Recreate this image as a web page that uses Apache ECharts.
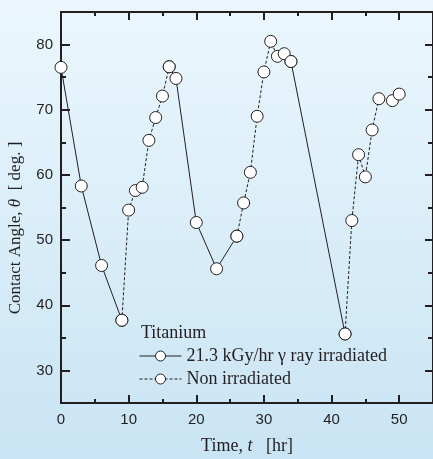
<!DOCTYPE html>
<html>
<head>
<meta charset="utf-8">
<script src="https://cdn.jsdelivr.net/npm/echarts@6/dist/echarts.min.js"></script>
<style>
  html, body { margin: 0; padding: 0; }
  #chart { width: 433px; height: 459px; }
</style>
</head>
<body>
<div id="chart"></div>
<script>
// Contact angle of titanium over time, alternating irradiation periods
const hours = [0, 3, 6, 9, 10, 11, 12, 13, 14, 15, 16, 17, 20, 23, 26, 27, 28, 29, 30, 31, 32, 33, 34, 42, 43, 44, 45, 46, 47, 49, 50];
const angle = [76.5, 58.3, 46.1, 37.7, 54.6, 57.6, 58.1, 65.3, 68.8, 72.1, 76.6, 74.8, 52.7, 45.6, 50.6, 55.7, 60.4, 69.0, 75.8, 80.5, 78.2, 78.6, 77.4, 35.6, 53.0, 63.1, 59.7, 66.9, 71.7, 71.4, 72.4];

// time spans [start, end] in hours
const irradiatedSpans = [[0, 9], [16, 26], [34, 42]];
const nonIrradiatedSpans = [[9, 16], [26, 34], [42, 50]];

const seriesNames = ['21.3 kGy/hr \u03b3 ray irradiated', 'Non irradiated'];
const legendTitle = 'Titanium';

const xMajorTicks = [0, 10, 20, 30, 40, 50];
const xMinorTicks = [5, 15, 25, 35, 45];
const yMajorTicks = [30, 40, 50, 60, 70, 80];
const yMinorTicks = [35, 45, 55, 65, 75];

function spanData(spans) {
  const out = [];
  spans.forEach((s, k) => {
    if (k > 0) out.push(['-', '-']);
    hours.forEach((h, i) => {
      if (h >= s[0] && h <= s[1]) out.push([h, angle[i]]);
    });
  });
  return out;
}

const ink = '#231f20';
const serif = '"Liberation Serif", "DejaVu Serif", serif';
const sans = '"Liberation Sans", Arial, sans-serif';

function xAxisDef(position, ticks, len, labels) {
  return {
    type: 'value', gridIndex: 0, position: position,
    min: 0, max: 55,
    axisLine: { show: true, onZero: false, lineStyle: { color: ink, width: 2 } },
    axisTick: { show: true, inside: true, length: len, customValues: ticks, lineStyle: { color: ink, width: 2 } },
    axisLabel: labels ? { show: true, customValues: xMajorTicks, margin: 9, color: ink, fontFamily: sans, fontSize: 15 } : { show: false },
    splitLine: { show: false }
  };
}
function yAxisDef(position, ticks, len, labels) {
  return {
    type: 'value', gridIndex: 0, position: position,
    min: 25, max: 85,
    axisLine: { show: true, onZero: false, lineStyle: { color: ink, width: 2 } },
    axisTick: { show: true, inside: true, length: len, customValues: ticks, lineStyle: { color: ink, width: 2 } },
    axisLabel: labels ? { show: true, customValues: yMajorTicks, margin: 8, color: ink, fontFamily: sans, fontSize: 15 } : { show: false },
    splitLine: { show: false }
  };
}

const lineSeries = (name, spans, dash) => ({
  name: name,
  type: 'line',
  xAxisIndex: 0, yAxisIndex: 0,
  data: spanData(spans),
  connectNulls: false,
  symbol: 'circle',
  symbolSize: 12,
  showAllSymbol: true,
  lineStyle: { color: ink, width: 1, type: dash ? [3, 2] : 'solid' },
  itemStyle: { color: '#ffffff', borderColor: ink, borderWidth: 1 },
  emphasis: { disabled: true },
  animation: false
});

const chart = echarts.init(document.getElementById('chart'), null, { renderer: 'canvas' });
chart.setOption({
  animation: false,
  backgroundColor: {
    type: 'linear', x: 0, y: 0, x2: 0, y2: 1,
    colorStops: [{ offset: 0, color: '#ebf7fd' }, { offset: 1, color: '#c9e4f4' }]
  },
  grid: { left: 61, top: 12, width: 373.5, height: 391 },
  xAxis: [
    xAxisDef('bottom', xMajorTicks, 8, true),
    xAxisDef('bottom', xMinorTicks, 4, false),
    xAxisDef('top', xMajorTicks, 8, false),
    xAxisDef('top', xMinorTicks, 4, false)
  ],
  yAxis: [
    yAxisDef('left', yMajorTicks, 9, true),
    yAxisDef('left', yMinorTicks, 5, false),
    yAxisDef('right', yMajorTicks, 8, false),
    yAxisDef('right', yMinorTicks, 5, false)
  ],
  legend: {
    orient: 'vertical',
    left: 139, top: 347, padding: 0,
    itemWidth: 42, itemHeight: 12.5, itemGap: 5,
    itemStyle: { color: '#ffffff', borderColor: ink, borderWidth: 1 },
    lineStyle: { width: 1 },
    textStyle: { color: ink, fontFamily: serif, fontSize: 18 },
    data: seriesNames,
    selectedMode: false
  },
  graphic: [
    {
      type: 'text', left: 141, top: 324, silent: true,
      style: { text: legendTitle, fill: ink, font: '18px ' + serif }
    },
    {
      type: 'text', x: 16, y: 228, rotation: Math.PI / 2, silent: true,
      style: {
        text: 'Contact Angle, {i|\u03b8}  [ deg. ]',
        align: 'center', verticalAlign: 'middle',
        fill: ink, fontFamily: serif, fontSize: 17,
        rich: { i: { fontStyle: 'italic', fontFamily: serif, fontSize: 17, fill: ink } }
      }
    },
    {
      type: 'text', x: 247, y: 446, silent: true,
      style: {
        text: 'Time, {i|t}   [hr]',
        align: 'center', verticalAlign: 'middle',
        fill: ink, fontFamily: serif, fontSize: 18,
        rich: { i: { fontStyle: 'italic', fontFamily: serif, fontSize: 18, fill: ink } }
      }
    }
  ],
  series: [
    lineSeries(seriesNames[0], irradiatedSpans, false),
    lineSeries(seriesNames[1], nonIrradiatedSpans, true)
  ]
});
</script>
</body>
</html>
